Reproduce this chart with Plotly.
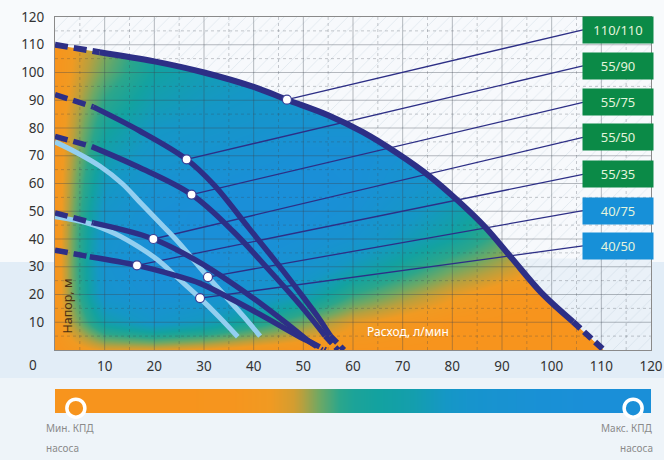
import plotly.graph_objects as go

# ---------------- data ----------------
x_ticks = [10, 20, 30, 40, 50, 60, 70, 80, 90, 100, 110, 120]
y_ticks = [10, 20, 30, 40, 50, 60, 70, 80, 90, 100, 110, 120]

# efficiency map (0 = min, 1 = max) on a 10 x 10 grid
eff_q = [0, 10, 20, 30, 40, 50, 60, 70, 80, 90, 100, 110]
eff_h = [0, 10, 20, 30, 40, 50, 60, 70, 80, 90, 100, 110, 120]
eff_z = [
    [0, 0.12, 0.12, 0.08, 0.03, 0, 0, 0, 0, 0, 0, 0],
    [0, 0.62, 0.8, 0.7, 0.5, 0.3, 0.12, 0.05, 0, 0, 0, 0],
    [0, 0.85, 0.95, 0.92, 0.85, 0.68, 0.4, 0.25, 0.12, 0.03, 0, 0],
    [0, 0.88, 1, 1, 0.95, 0.88, 0.68, 0.5, 0.32, 0.2, 0.05, 0],
    [0, 0.85, 0.98, 1, 1, 0.95, 0.87, 0.7, 0.55, 0.35, 0.12, 0],
    [0, 0.8, 0.95, 1, 1, 1, 0.94, 0.8, 0.65, 0.45, 0.2, 0.05],
    [0, 0.72, 0.9, 0.95, 1, 1, 0.98, 0.88, 0.76, 0.55, 0.3, 0.1],
    [0, 0.62, 0.82, 0.88, 0.92, 0.98, 0.98, 0.92, 0.8, 0.6, 0.38, 0.2],
    [0, 0.52, 0.74, 0.8, 0.85, 0.9, 0.9, 0.86, 0.78, 0.62, 0.4, 0.3],
    [0, 0.42, 0.64, 0.72, 0.78, 0.82, 0.82, 0.8, 0.72, 0.6, 0.4, 0.3],
    [0, 0.32, 0.56, 0.66, 0.72, 0.75, 0.75, 0.72, 0.65, 0.55, 0.4, 0.3],
    [0, 0.26, 0.52, 0.62, 0.68, 0.7, 0.7, 0.68, 0.62, 0.55, 0.4, 0.3],
    [0, 0.24, 0.5, 0.62, 0.68, 0.7, 0.7, 0.68, 0.62, 0.55, 0.4, 0.3],
]

# pump curves: flow (l/min) and head (m)
q_110_110 = [0, 9, 20, 30, 40, 46.7, 55, 62, 69, 75.5, 81, 86.5, 92, 98, 104.3, 110.5]
h_110_110 = [110, 107.3, 104, 100, 94.8, 90.2, 84.6, 78.5, 70.8, 62.5, 54, 44.5, 33, 20.5, 10.2, 0]

q_55_90 = [0, 7.7, 17, 26.5, 32, 39, 45.5, 50, 53.3, 55.4, 58.2]
h_55_90 = [92, 87.6, 79, 68.7, 59.5, 44, 29.5, 19, 11, 5.2, 0]

q_55_75 = [0, 7.4, 16.7, 27.5, 36, 43, 48.5, 52, 54.4, 57]
h_55_75 = [77, 73.3, 66, 56, 42.5, 29, 18, 10.5, 5, 0]

q_55_50 = [0, 7.7, 19.8, 29.2, 39.3, 46, 51, 53.8]
h_55_50 = [49.4, 45.8, 40, 31.5, 19.5, 10.5, 3.3, 0]

q_55_35 = [0, 7, 16.5, 24, 29.2, 35.9, 42.6, 49.3, 51.5, 54.5]
h_55_35 = [36, 33.6, 30.5, 27, 24, 18, 11.5, 4.7, 2.8, 0]

q_40_75 = [0, 4.5, 9, 13.5, 17.5, 21, 25, 30.8, 34.5, 38, 41.3]
h_40_75 = [75, 71, 66.3, 60, 52.5, 46, 38.5, 26.3, 19, 12, 5]

q_40_50 = [0, 7, 12, 17, 21, 25, 29.2, 33, 36.8]
h_40_50 = [48, 45.5, 42, 37, 32, 25.5, 18.7, 12, 4.8]

# dashed parts: start dashed up to, end dashed from (flow values)
dash_until = {"110/110": 9, "55/90": 7.7, "55/75": 7.4, "55/50": 7.7, "55/35": 7}
dash_from = {"110/110": 104.3, "55/90": 55.4, "55/75": 54.4, "55/50": 51, "55/35": 51.5}

labels = ["110/110", "55/90", "55/75", "55/50", "55/35", "40/75", "40/50"]
point_q = [46.7, 26.5, 27.5, 19.8, 16.5, 30.8, 29.2]
point_h = [90.2, 68.7, 56, 40, 30.5, 26.3, 18.7]

# efficiency bar (evenly spaced stops from min to max)
bar_pos = [0, 0.1, 0.2, 0.3, 0.4, 0.5, 0.6, 0.7, 0.8, 0.9, 1.0]
bar_val = [0, 0, 0, 0.02, 0.15, 0.5, 0.62, 0.85, 0.95, 1, 1]

# ---------------- layout constants ----------------
label_y = [115.4, 102.4, 89.2, 76.6, 63.3, 50.2, 37.5]
label_x = 113.3
label_left = 106.3
box_colors = ["#0b8a47"] * 5 + ["#1790d8"] * 2

NAVY = "#2d2f86"
LIGHT = "#93cff0"
FONT = "Noto Sans"

colorscale = [
    [0.0, "#f7941d"], [0.1, "#f09a22"], [0.2, "#b8a03e"], [0.3, "#6fa864"],
    [0.42, "#2ba68b"], [0.55, "#13a2a0"], [0.75, "#1597c6"], [1.0, "#1a8fd8"],
]

curves = {
    "110/110": (q_110_110, h_110_110),
    "55/90": (q_55_90, h_55_90),
    "55/75": (q_55_75, h_55_75),
    "55/50": (q_55_50, h_55_50),
    "55/35": (q_55_35, h_55_35),
    "40/75": (q_40_75, h_40_75),
    "40/50": (q_40_50, h_40_50),
}

fig = go.Figure()

# efficiency map
fig.add_trace(go.Heatmap(x=eff_q, y=eff_h, z=eff_z, zmin=0, zmax=1, colorscale=colorscale,
                         zsmooth="best", showscale=False, hoverinfo="skip"))

# mask above the outer curve
mx = q_110_110 + [120, 120, 0]
my = h_110_110 + [0, 120, 120]
fig.add_trace(go.Scatter(x=mx, y=my, mode="lines", line=dict(width=0), fill="toself",
                         fillcolor="#f7f9fc",
                         fillpattern=dict(shape="/", fgcolor="#e2e8ef", bgcolor="#f7f9fc",
                                          size=9, solidity=0.1, fillmode="replace"),
                         hoverinfo="skip", showlegend=False))
low = [(q, h) for q, h in zip(q_110_110, h_110_110) if h <= 33]
lx = [p[0] for p in low] + [120, 120]
ly = [p[1] for p in low] + [0, low[0][1]]
fig.add_trace(go.Scatter(x=lx, y=ly, mode="lines", line=dict(width=0), fill="toself",
                         fillcolor="#eaf1f8",
                         fillpattern=dict(shape="/", fgcolor="#d9e3ed", bgcolor="#eaf1f8",
                                          size=9, solidity=0.1, fillmode="replace"),
                         hoverinfo="skip", showlegend=False))

# grid
def grid(vals, dash, color):
    gx, gy = [], []
    for v in vals:
        gx += [v, v, None]
        gy += [0, 120, None]
        gx += [0, 120, None]
        gy += [v, v, None]
    fig.add_trace(go.Scatter(x=gx, y=gy, mode="lines", line=dict(color=color, width=1, dash=dash),
                             hoverinfo="skip", showlegend=False))

grid([t for t in x_ticks if t < 120], "solid", "rgba(60,70,80,0.36)")
grid([t - 5 for t in x_ticks], "3px,3px", "rgba(60,70,80,0.28)")

# leader lines
llx, lly = [], []
for q, h, yy in zip(point_q, point_h, label_y):
    llx += [q, label_left, None]
    lly += [h, yy, None]
fig.add_trace(go.Scatter(x=llx, y=lly, mode="lines", line=dict(color=NAVY, width=1.3),
                         hoverinfo="skip", showlegend=False))

# curves
def seg(q, h, lo, hi):
    pts = [(a, b) for a, b in zip(q, h) if lo <= a <= hi]
    return [p[0] for p in pts], [p[1] for p in pts]

for name in ["40/75", "40/50"]:
    q, h = curves[name]
    fig.add_trace(go.Scatter(x=q, y=h, mode="lines", line=dict(color=LIGHT, width=5, shape="spline"),
                             hoverinfo="skip", showlegend=False))

for name in ["55/35", "55/50", "55/75", "55/90", "110/110"]:
    q, h = curves[name]
    a, b = dash_until[name], dash_from[name]
    for lo, hi, dash in [(-1, a, "13px,6px"), (a, b, "solid"), (b, 999, "10px,5px")]:
        sx, sy = seg(q, h, lo, hi)
        fig.add_trace(go.Scatter(x=sx, y=sy, mode="lines",
                                 line=dict(color=NAVY, width=6 if name == "110/110" else 5.5,
                                           shape="spline", dash=dash),
                                 hoverinfo="skip", showlegend=False))

# operating points
fig.add_trace(go.Scatter(x=point_q, y=point_h, mode="markers",
                         marker=dict(size=9, color="white", line=dict(color="#3b3f95", width=1.2)),
                         hoverinfo="skip", showlegend=False))

# efficiency bar
fig.add_trace(go.Heatmap(x=bar_pos, y=[0, 1], z=[bar_val, bar_val], zmin=0, zmax=1,
                         colorscale=colorscale, zsmooth="best", showscale=False,
                         xaxis="x2", yaxis="y2", hoverinfo="skip"))
fig.add_trace(go.Scatter(x=[0.035, 0.97], y=[0.2, 0.2], mode="markers", xaxis="x2", yaxis="y2",
                         marker=dict(size=18, color=["#f7941d", "#1a8fd8"],
                                     line=dict(color="white", width=3.5)),
                         cliponaxis=False, hoverinfo="skip", showlegend=False))

annotations = []
for lab, yy, c in zip(labels, label_y, box_colors):
    annotations.append(dict(x=label_x, y=yy, xref="x", yref="y", text=lab, showarrow=False,
                            width=68, height=24, bgcolor=c,
                            font=dict(family=FONT, size=13, color="#e3f4dc")))
small = dict(family=FONT, size=10, color="#8a8a8a")
annotations += [
    dict(x=-0.037, y=0.1365, xref="paper", yref="paper", text="0", showarrow=False,
         xanchor="center", yanchor="middle", font=dict(family=FONT, size=13.5, color="#333333")),
    dict(x=2.6, y=16, xref="x", yref="y", text="Напор, м", textangle=-90, showarrow=False,
         font=dict(family=FONT, size=12.5, color="#4a2f14")),
    dict(x=71, y=6.5, xref="x", yref="y", text="Расход, л/мин", showarrow=False,
         font=dict(family=FONT, size=12, color="white")),
    dict(x=-0.018, y=-0.02, xref="paper", yref="paper", text="Мин. КПД", showarrow=False,
         xanchor="left", yanchor="middle", font=small),
    dict(x=-0.018, y=-0.07, xref="paper", yref="paper", text="насоса", showarrow=False,
         xanchor="left", yanchor="middle", font=small),
    dict(x=1.007, y=-0.02, xref="paper", yref="paper", text="Макс. КПД", showarrow=False,
         xanchor="right", yanchor="middle", font=small),
    dict(x=1.007, y=-0.07, xref="paper", yref="paper", text="насоса", showarrow=False,
         xanchor="right", yanchor="middle", font=small),
]

shapes = [
    dict(type="rect", xref="paper", yref="paper", x0=-0.1, x1=1.03, y0=0.392, y1=1.05,
         fillcolor="#f8fafc", line=dict(width=0), layer="below"),
    dict(type="rect", xref="paper", yref="paper", x0=-0.1, x1=1.03, y0=-0.1, y1=0.104,
         fillcolor="#eef4f9", line=dict(width=0), layer="below"),
]

fig.update_layout(
    width=664, height=460,
    margin=dict(l=55, r=13, t=17, b=40),
    paper_bgcolor="#e2edf7", plot_bgcolor="rgba(0,0,0,0)",
    showlegend=False,
    annotations=annotations, shapes=shapes,
    xaxis=dict(domain=[0, 1], range=[0, 120], tickvals=x_ticks, ticktext=[str(t) for t in x_ticks],
               showgrid=False, zeroline=False, showline=True, mirror=True, linecolor="#8a8a8a",
               linewidth=1, ticks="", ticklabelstandoff=4, automargin=False,
               tickfont=dict(family=FONT, size=13.5, color="#333333")),
    yaxis=dict(domain=[0.1737, 1], range=[0, 120], tickvals=y_ticks, ticktext=[str(t) for t in y_ticks],
               showgrid=False, zeroline=False, showline=True, mirror=True, linecolor="#8a8a8a",
               linewidth=1, ticks="", ticklabelstandoff=7, automargin=False,
               tickfont=dict(family=FONT, size=13.5, color="#333333")),
    xaxis2=dict(domain=[0, 1], range=[0, 1], anchor="y2", visible=False),
    yaxis2=dict(domain=[0.0174, 0.0769], range=[0, 1], anchor="x2", visible=False),
)

fig.write_html("out.html", config={"displayModeBar": False},
               post_script="document.body.style.margin='0px';")
